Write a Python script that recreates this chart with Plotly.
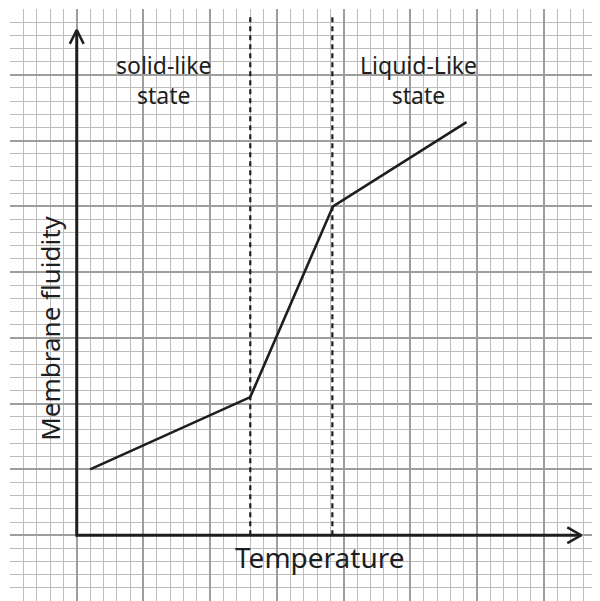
import plotly.graph_objects as go

# Data (in graph-paper squares)
temperature = [1.0, 13.0, 19.2, 29.2]
fluidity = [5.0, 10.5, 25.0, 31.4]
transition_temps = [13.0, 19.15]
dash_top = 39.4
x_axis_end = 37.8
y_axis_end = 38.4
region_labels = ["solid-like<br>state", "Liquid-Like<br>state"]
region_label_x = [6.5, 25.6]
region_label_y = 34.6
x_title = "Temperature"
y_title = "Membrane fluidity"

ink = "#1e1e1e"
font_family = "Noto Sans, DejaVu Sans, sans-serif"

fig = go.Figure()

# axes (hand drawn)
fig.add_trace(go.Scatter(x=[0, 0, x_axis_end], y=[y_axis_end, 0, 0], mode="lines",
                         line=dict(color=ink, width=3), hoverinfo="skip"))
# arrow heads
fig.add_trace(go.Scatter(x=[-0.52, 0, 0.52], y=[y_axis_end - 1.05, y_axis_end, y_axis_end - 1.05],
                         mode="lines", line=dict(color=ink, width=2.5), hoverinfo="skip"))
fig.add_trace(go.Scatter(x=[x_axis_end - 1.05, x_axis_end, x_axis_end - 1.05], y=[0.6, 0, -0.6],
                         mode="lines", line=dict(color=ink, width=2.5), hoverinfo="skip"))

# dashed transition lines
for xt in transition_temps:
    fig.add_trace(go.Scatter(x=[xt, xt], y=[0, dash_top], mode="lines",
                             line=dict(color=ink, width=2.2, dash="5px,4px"), hoverinfo="skip"))

# data curve
fig.add_trace(go.Scatter(x=temperature, y=fluidity, mode="lines",
                         line=dict(color=ink, width=2.6), hoverinfo="skip"))

for lbl, lx in zip(region_labels, region_label_x):
    fig.add_annotation(x=lx, y=region_label_y, text=lbl, showarrow=False,
                       font=dict(family=font_family, size=23, color=ink))

fig.add_annotation(x=18.2, y=-1.65, text=x_title, showarrow=False,
                   font=dict(family=font_family, size=28, color=ink))
fig.add_annotation(x=-2.0, y=15.7, text=y_title, showarrow=False, textangle=-90,
                   font=dict(family=font_family, size=26, color=ink))

grid_axis = dict(showgrid=True, gridcolor="#9e9e9e", gridwidth=1.6, dtick=5, tick0=0,
                 minor=dict(dtick=1, tick0=0, showgrid=True, gridcolor="#bdbdbd", gridwidth=1.3),
                 zeroline=False, showticklabels=False, ticks="", showline=False, fixedrange=True)

fig.update_layout(
    width=600, height=601,
    margin=dict(l=2, r=8, t=1, b=8),
    paper_bgcolor="white", plot_bgcolor="white",
    showlegend=False,
    xaxis=dict(range=[-5, 39.2], **grid_axis),
    yaxis=dict(range=[-5, 40], **grid_axis),
)

fig.write_html("out.html")
